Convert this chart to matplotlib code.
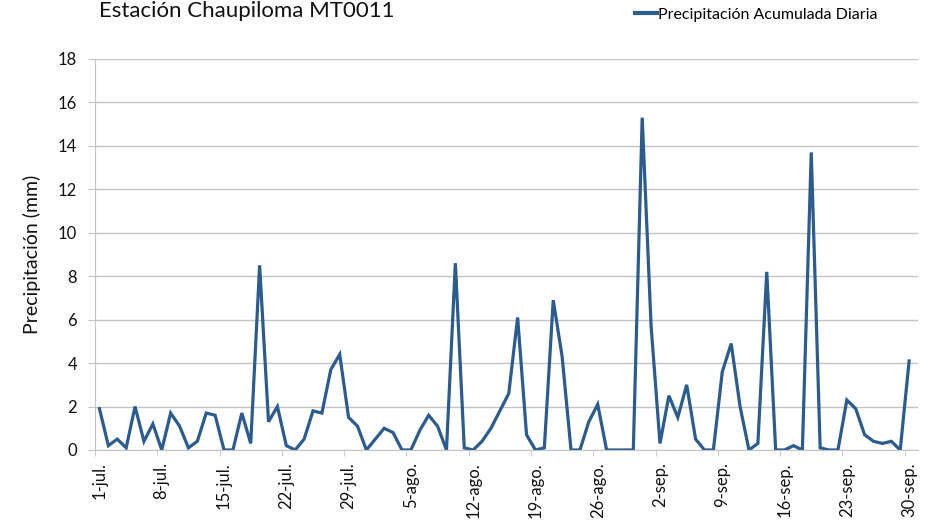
import matplotlib
matplotlib.use("Agg")
import matplotlib.pyplot as plt
from matplotlib.lines import Line2D
import numpy as np

# daily rainfall, 1-jul .. 30-sep
precip_jul = [1.9, 0.2, 0.5, 0.1, 2.0, 0.4, 1.2, 0.0, 1.7, 1.1,
              0.1, 0.4, 1.7, 1.6, 0.0, 0.0, 1.7, 0.3, 8.5, 1.3,
              2.0, 0.2, 0.0, 0.5, 1.8, 1.7, 3.7, 4.4, 1.5, 1.1,
              0.0]
precip_ago = [0.5, 1.0, 0.8, 0.0, 0.0, 0.9, 1.6, 1.1, 0.0, 8.6,
              0.1, 0.0, 0.4, 1.0, 1.8, 2.6, 6.1, 0.7, 0.0, 0.1,
              6.9, 4.3, 0.0, 0.0, 1.3, 2.1, 0.0, 0.0, 0.0, 0.0,
              15.3]
precip_sep = [5.7, 0.3, 2.5, 1.5, 3.0, 0.5, 0.0, 0.0, 3.6, 4.9,
              2.0, 0.0, 0.3, 8.2, 0.0, 0.0, 0.2, 0.0, 13.7, 0.1,
              0.0, 0.0, 2.3, 1.9, 0.7, 0.4, 0.3, 0.4, 0.0, 4.1]
tick_labels = ['1-jul.', '8-jul.', '15-jul.', '22-jul.', '29-jul.',
               '5-ago.', '12-ago.', '19-ago.', '26-ago.',
               '2-sep.', '9-sep.', '16-sep.', '23-sep.', '30-sep.']
tick_days = [0, 7, 14, 21, 28, 35, 42, 49, 56, 63, 70, 77, 84, 91]

values = precip_jul + precip_ago + precip_sep
days = np.arange(len(values))

plt.rcParams['font.family'] = ['Lato', 'DejaVu Sans']
line_color = '#2b5b8f'
grid_color = '#c4c4c4'

fig = plt.figure(figsize=(9.38, 5.23), dpi=100)
ax = fig.add_axes([0.1013, 0.1396, 0.8774, 0.7476])

ax.plot(days, values, color=line_color, linewidth=2.3, solid_joinstyle='miter')

ax.set_xlim(-0.5, 92.0)
ax.set_ylim(0, 18)
ax.set_yticks(np.arange(0, 19, 2))
ax.yaxis.grid(True, color=grid_color, linewidth=1)
ax.set_axisbelow(True)

ax.set_xticks(tick_days)
ax.set_xticklabels(tick_labels, rotation=90, fontsize=12, color='#111111')
ax.set_xticks([d - 0.5 for d in tick_days], minor=True)
ax.tick_params(axis='x', which='major', length=0, pad=9)
ax.tick_params(axis='x', which='minor', length=4, color=grid_color)
ax.tick_params(axis='y', length=5, color=grid_color, labelsize=12,
               labelcolor='#111111', pad=8)

for s in ['top', 'right']:
    ax.spines[s].set_visible(False)
ax.spines['left'].set_color(grid_color)
ax.spines['bottom'].set_color(grid_color)

ax.set_ylabel('Precipitación (mm)', fontsize=14, color='#111111')
ax.yaxis.set_label_coords(-0.066, 0.5)

fig.text(99 / 938, 1 - 1 / 523, 'Estación Chaupiloma MT0011', fontsize=16,
         ha='left', va='top', color='#111111')

handle = Line2D([0], [0], color=line_color, linewidth=3)
fig.legend([handle], ['Precipitación Acumulada Diaria'], loc='center left',
           bbox_to_anchor=(635 / 938, 1 - 15 / 523), frameon=False,
           fontsize=11.5, borderpad=0, borderaxespad=0,
           handlelength=1.35, handletextpad=0.1)

fig.savefig('out.png', dpi=100, facecolor='white')
